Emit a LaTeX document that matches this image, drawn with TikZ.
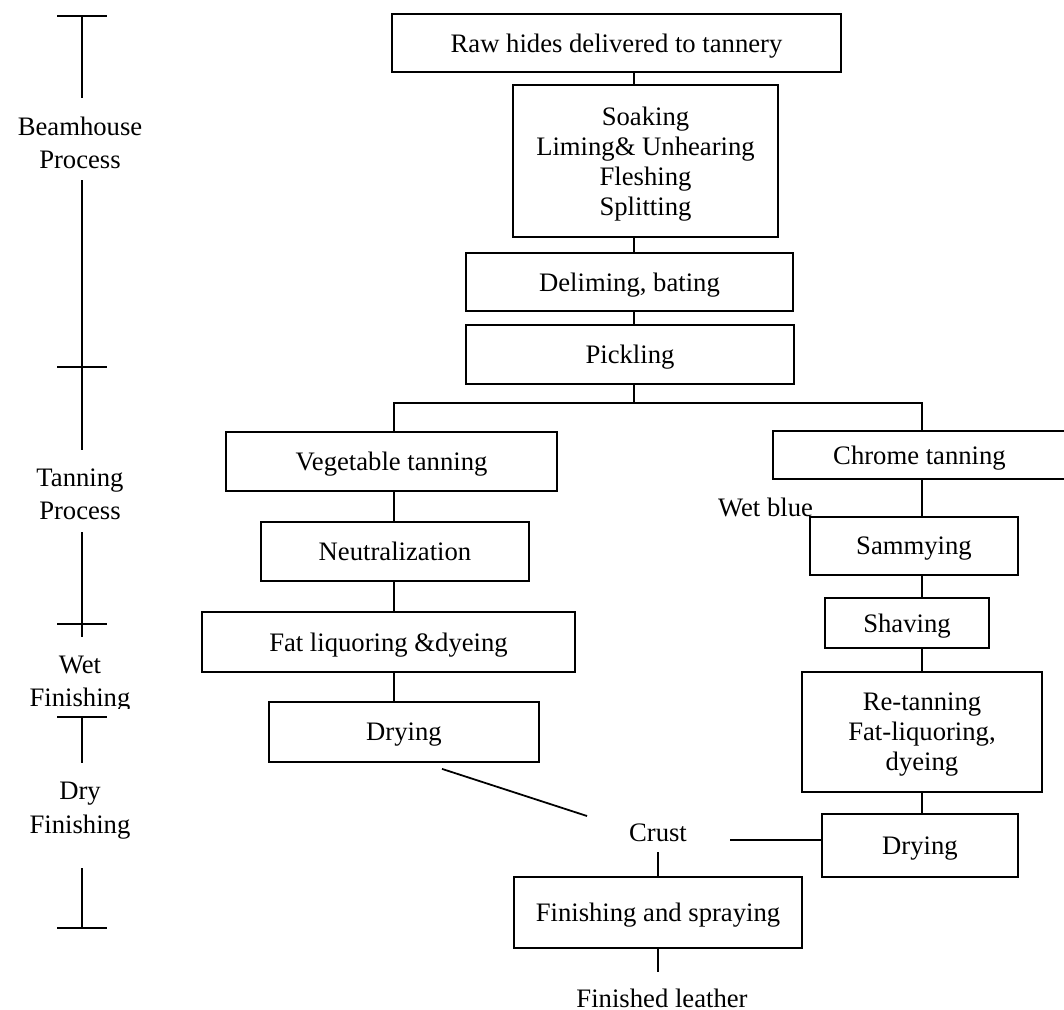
\documentclass[tikz,border=0pt]{standalone}
\usepackage{fontspec}
\setmainfont{Liberation Serif}
\usetikzlibrary{positioning, calc}

\def\pxu{0.45pt}
\tikzset{
  stage/.style={draw, line width=0.8pt, align=center, inner sep=0pt,
    text depth=0pt, font=\fontsize{12}{13.5}\selectfont},
  stagebox/.style 2 args={stage, minimum width=#1*\pxu, minimum height=#2*\pxu},
  phase/.style={align=center, inner sep=0pt, font=\fontsize{12}{15}\selectfont},
  tag/.style={inner sep=0pt, font=\fontsize{12}{13.5}\selectfont},
  link/.style={line width=0.8pt},
}

\begin{document}
\begin{tikzpicture}[x=0.45pt, y=-0.45pt]
  % page frame
  \useasboundingbox (0,0) rectangle (1064,1010);

  % trunk lines
  \coordinate (midx) at (634,0);
  \coordinate (vegx) at (394,0);
  \coordinate (chrx) at (922,0);
  \coordinate (fork) at (634,403);

  % beamhouse
  \node[stagebox={449}{58}] (raw) at (616.5,43) {Raw hides delivered to tannery};
  \node[stagebox={265}{152}] (soak) at (645.5,161) {Soaking\\Liming\& Unhearing\\Fleshing\\Splitting};
  \node[stagebox={327}{58}] (delime) at (629.5,282) {Deliming, bating};
  \node[stagebox={328}{59}] (pickle) at (630,354.5) {Pickling};

  % vegetable branch
  \node[stagebox={331}{59}] (veg) at (391.5,461.5) {Vegetable tanning};
  \node[stagebox={268}{59}] (neutral) at (395,551.5) {Neutralization};
  \node[stagebox={373}{60}] (fatliq) at (388.5,642) {Fat liquoring \&dyeing};
  \node[stagebox={270}{60}] (dryveg) at (404,732) {Drying};

  % chrome branch
  \node[stagebox={293}{48}] (chrome) at (919.5,455) {Chrome tanning};
  \node[tag] (wetblue) at (765.5,507) {Wet blue};
  \node[stagebox={208}{58}] (sammy) at (914,546) {Sammying};
  \node[stagebox={164}{50}] (shave) at (907,623) {Shaving};
  \node[stagebox={240}{120}] (retan) at (922,732) {Re-tanning\\Fat-liquoring,\\dyeing};
  \node[stagebox={196}{63}] (drychr) at (920,845.5) {Drying};

  % crust and finishing
  \node[tag] (crust) at (658,833) {Crust};
  \node[stagebox={288}{71}] (finish) at (658,912.5) {Finishing and spraying};
  \node[tag] (leather) at (662,998) {Finished leather};

  % main line
  \draw[link] (raw.south -| midx) -- (soak.north -| midx);
  \draw[link] (soak.south -| midx) -- (delime.north -| midx);
  \draw[link] (delime.south -| midx) -- (pickle.north -| midx);
  \draw[link] (pickle.south -| midx) -- (fork);
  \draw[link] (veg.north -| vegx) -- (vegx |- fork) -- (chrx |- fork) -- (chrome.north -| chrx);

  % left column
  \draw[link] (veg.south -| vegx) -- (neutral.north -| vegx);
  \draw[link] (neutral.south -| vegx) -- (fatliq.north -| vegx);
  \draw[link] (fatliq.south -| vegx) -- (dryveg.north -| vegx);
  \draw[link] ($(dryveg.south)+(38,6)$) -- ($(crust)+(-71,-17)$);

  % right column
  \draw[link] (chrome.south -| chrx) -- (sammy.north -| chrx);
  \draw[link] (sammy.south -| chrx) -- (shave.north -| chrx);
  \draw[link] (shave.south -| chrx) -- (retan.north -| chrx);
  \draw[link] (retan.south -| chrx) -- (drychr.north -| chrx);
  \coordinate (crustr) at (730,840);
  \draw[link] (crustr) -- (crustr -| drychr.west);

  % to the end
  \draw[link] ($(crust)+(0,19)$) -- (finish.north -| crust);
  \draw[link] (finish.south) -- ($(leather)+(-4,-26)$);

  % process scale
  \node[phase] (beam) at (80,143) {Beamhouse\\Process};
  \node[phase] (tanproc) at (80,494.5) {Tanning\\Process};
  \begin{scope}
    \clip (0,600) rectangle (200,708);
    \node[phase] (wetfin) at (80,684) {Wet\\Finishing};
  \end{scope}
  \node[phase] (dryfin) at (80,810.5) {Dry\\Finishing};

  \foreach \t/\n in {16/t1, 367/t2, 624/t3, 717/t4, 928/t5} {
    \coordinate (\n) at (82,\t);
    \draw[link] (57,\t) -- (107,\t);
  }
  \draw[link] (t1) -- ($(beam)+(2,-45)$);
  \draw[link] ($(beam)+(2,37)$) -- (t2) -- ($(tanproc)+(2,-44.5)$);
  \draw[link] ($(tanproc)+(2,37.5)$) -- (t3) -- ($(wetfin)+(2,-47)$);
  \draw[link] (t4) -- ($(dryfin)+(2,-47.5)$);
  \draw[link] ($(dryfin)+(2,57.5)$) -- (t5);
\end{tikzpicture}
\end{document}
